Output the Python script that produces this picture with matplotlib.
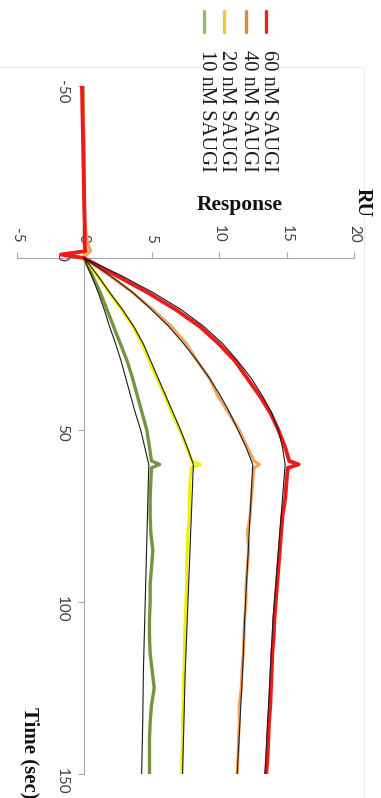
import matplotlib
matplotlib.use("Agg")
import matplotlib.pyplot as plt
from matplotlib.lines import Line2D

# ---------------- data ----------------
series_labels = ["60 nM SAUGI", "40 nM SAUGI", "20 nM SAUGI", "10 nM SAUGI"]

# raw sensorgram time points (sec)
t_raw = [-50, -40, -30, -20, -10, -4, -2, -1, 0,
         5, 10, 15, 20, 25, 30, 35, 40, 45, 50, 55,
         59, 60, 61,
         65, 70, 75, 80, 85, 90, 95, 100, 105, 110, 115, 120, 125, 130, 135, 140, 145, 150]

red_raw = [-0.15, -0.1, -0.05, 0.0, 0.05, 0.05, 0.1, -1.7, 0.0,
           2.35, 4.7, 6.8, 8.6, 10.0, 11.2, 12.1, 13.0, 13.8, 14.4, 14.9,
           15.2, 15.9, 15.1,
           15.0, 14.9, 14.7, 14.6, 14.5, 14.4, 14.3, 14.2, 14.1, 14.05, 13.95, 13.9, 13.85, 13.8, 13.7, 13.65, 13.6, 13.5]

orange_raw = [-0.1, -0.05, 0.0, 0.0, 0.05, 0.3, 0.5, 0.2, 0.0,
              1.85, 3.6, 5.1, 6.5, 7.6, 8.4, 9.3, 9.9, 10.7, 11.5, 12.1,
              12.6, 13.0, 12.6,
              12.5, 12.4, 12.3, 12.1, 12.2, 12.1, 12.0, 12.0, 11.9, 11.85, 11.8, 11.7, 11.65, 11.5, 11.5, 11.45, 11.4, 11.35]

yellow_raw = [-0.1, -0.05, 0.0, 0.0, 0.05, 0.1, 0.2, 0.1, 0.0,
              0.95, 1.85, 2.8, 3.65, 4.3, 4.85, 5.4, 6.0, 6.5, 7.1, 7.6,
              8.0, 8.6, 7.95,
              7.85, 7.8, 7.8, 7.7, 7.65, 7.6, 7.6, 7.55, 7.5, 7.45, 7.45, 7.4, 7.35, 7.35, 7.3, 7.3, 7.25, 7.25]

green_raw = [-0.1, -0.05, 0.0, 0.0, 0.05, 0.1, 0.1, 0.05, 0.0,
             0.6, 1.2, 1.7, 2.2, 2.7, 3.2, 3.6, 3.95, 4.3, 4.65, 4.85,
             5.0, 5.6, 5.0,
             4.95, 4.9, 4.9, 4.95, 5.1, 5.0, 4.9, 4.9, 4.85, 4.85, 4.9, 5.05, 5.2, 5.0, 4.9, 4.85, 4.85, 4.85]

# fitted curves (thin black)
t_fit = [0, 5, 10, 15, 20, 25, 30, 35, 40, 45, 50, 55, 60, 75, 90, 105, 120, 135, 150]
red_fit = [0, 2.7, 5.1, 7.2, 8.9, 10.3, 11.4, 12.4, 13.2, 13.9, 14.4, 14.7, 14.9, 14.6, 14.3, 14.0, 13.8, 13.6, 13.4]
orange_fit = [0, 1.9, 3.6, 5.0, 6.3, 7.4, 8.4, 9.3, 10.1, 10.8, 11.4, 12.0, 12.5, 12.3, 12.1, 11.9, 11.75, 11.55, 11.35]
yellow_fit = [0, 1.0, 1.9, 2.85, 3.7, 4.4, 4.95, 5.5, 6.05, 6.6, 7.15, 7.65, 8.1, 7.95, 7.8, 7.65, 7.5, 7.4, 7.3]
green_fit = [0, 0.55, 1.05, 1.5, 1.9, 2.35, 2.75, 3.1, 3.45, 3.8, 4.2, 4.5, 4.8, 4.7, 4.6, 4.5, 4.4, 4.35, 4.27]

response_ticks = [-5, 0, 5, 10, 15, 20]
time_ticks = [-50, 0, 50, 100, 150]

# ---------------- styling ----------------
W, H = 381, 798
line_colors = ["#ec1a1a", "#f0a460", "#eef000", "#76943f"]
legend_colors = ["#e8262e", "#d98a40", "#eccc34", "#9cb865"]
axis_gray = "#a6a6a6"
tick_font = "Lato"
serif = "Liberation Serif"

fig = plt.figure(figsize=(W / 100, H / 100), dpi=100)
fig.patch.set_facecolor("white")

# faint chart-area border
fig.add_artist(Line2D([0, 364 / W], [1 - 67 / H, 1 - 67 / H], color="#ececec", lw=0.8))
fig.add_artist(Line2D([364 / W, 364 / W], [0, 1 - 67 / H], color="#ececec", lw=0.8))

ax = fig.add_axes([16.5 / W, 24 / H, 337.5 / W, 688 / H])
ax.set_facecolor("none")
ax.set_xlim(-5, 20)
ax.set_ylim(150, -50)

raws = [red_raw, orange_raw, yellow_raw, green_raw]
fits = [red_fit, orange_fit, yellow_fit, green_fit]
widths = [2.8, 2.2, 2.2, 2.4]
for vals, c, lw, z in zip(raws[::-1], line_colors[::-1], widths[::-1], [2, 3, 4, 5]):
    ax.plot(vals, t_raw, color=c, lw=lw, zorder=z, solid_joinstyle="round")
for vals in fits:
    ax.plot(vals, t_fit, color="#1a1a1a", lw=0.8, zorder=6)

# axes through zero
for s in ["right", "bottom"]:
    ax.spines[s].set_visible(False)
ax.spines["left"].set_position(("data", 0))
ax.spines["top"].set_position(("data", 0))
for s in ["left", "top"]:
    ax.spines[s].set_color(axis_gray)
    ax.spines[s].set_linewidth(0.8)
    ax.spines[s].set_zorder(1)
ax.xaxis.tick_top()
ax.set_xticks(response_ticks)
ax.set_yticks(time_ticks)
ax.set_xticklabels([str(v) for v in response_ticks])
ax.set_yticklabels([str(v) for v in time_ticks])
ax.tick_params(axis="both", direction="out", length=4, width=0.8, color=axis_gray,
               labelsize=11, labelcolor="#404040", labelrotation=270)
ax.tick_params(axis="x", pad=7)
ax.tick_params(axis="y", pad=7)
for lab in ax.get_xticklabels() + ax.get_yticklabels():
    lab.set_family(tick_font)

# axis titles (rotated chart)
fig.text(240 / W, 1 - 205 / H, "Response", ha="center", va="center",
         fontsize=15.5, fontweight="bold", family=serif, color="#111111")
fig.text(363 / W, 1 - 188 / H, "RU", ha="center", va="top", rotation=270,
         fontsize=14.5, fontweight="bold", family=serif, color="#111111")
fig.text(30 / W, 1 - 707 / H, "Time (sec)", ha="center", va="top", rotation=270,
         fontsize=15, fontweight="bold", family=serif, color="#111111")

# legend (rotated)
leg_x = [266, 246, 224, 204]
for x, c, lab in zip(leg_x, legend_colors, series_labels):
    fig.add_artist(Line2D([x / W, x / W], [1 - 11 / H, 1 - 32 / H], color=c, lw=2.4,
                          solid_capstyle="round"))
    fig.text((x + 2) / W, 1 - 50 / H, lab, ha="center", va="top", rotation=270,
             fontsize=14.8, family=serif, color="#1a1a1a")

fig.savefig("out.png", dpi=100, facecolor="white")
